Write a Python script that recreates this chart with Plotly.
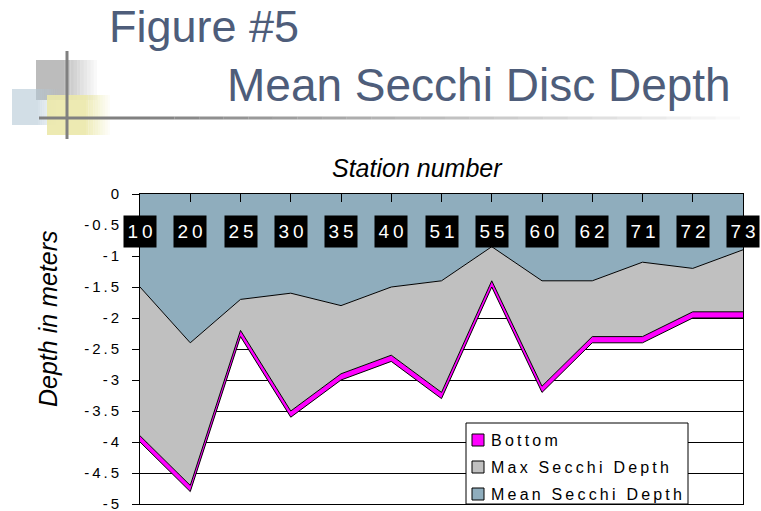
"""Figure #5 - Mean Secchi Disc Depth by station."""
import plotly.graph_objects as go

stations = ["10", "20", "25", "30", "35", "40", "51", "55", "60", "62", "71", "72", "73"]
mean_secchi = [-1.5, -2.4, -1.7, -1.6, -1.8, -1.5, -1.4, -0.85, -1.4, -1.4, -1.1, -1.2, -0.9]
max_secchi = [-3.9, -4.7, -2.2, -3.5, -2.9, -2.6, -3.2, -1.4, -3.1, -2.3, -2.3, -1.9, -1.9]
bottom = [-4.0, -4.8, -2.3, -3.6, -3.0, -2.7, -3.3, -1.5, -3.2, -2.4, -2.4, -2.0, -2.0]
surface = [0] * len(stations)

y_ticks = [0, -0.5, -1, -1.5, -2, -2.5, -3, -3.5, -4, -4.5, -5]
legend_names = ["Bottom", "Max Secchi Depth", "Mean Secchi Depth"]

MAGENTA = "#ff00ff"
GRAY = "#c0c0c0"
BLUE = "#8fadbd"
TITLE_COL = "#4e5d7a"
FONT = "Arial, Liberation Sans, sans-serif"

W, H = 761, 511
# plot area in pixels
PL, PR, PT, PB = 140, 743, 194, 504


def px(x):
    return (x - PL) / (PR - PL)


def py(y):
    return (PB - y) / (PB - PT)


def spaced(s, gap="\u2009"):
    # the original chart uses wide letter spacing
    return gap.join(s)


fig = go.Figure()
line = dict(color="black", width=1)
fig.add_trace(go.Scatter(x=stations, y=bottom, mode="lines", line=line,
                         showlegend=False, hoverinfo="skip"))
fig.add_trace(go.Scatter(x=stations, y=max_secchi, mode="lines", line=line,
                         fill="tonexty", fillcolor=MAGENTA, showlegend=False))
fig.add_trace(go.Scatter(x=stations, y=mean_secchi, mode="lines", line=line,
                         fill="tonexty", fillcolor=GRAY, showlegend=False))
fig.add_trace(go.Scatter(x=stations, y=surface, mode="lines", line=dict(width=0),
                         fill="tonexty", fillcolor=BLUE, showlegend=False,
                         hoverinfo="skip"))

# station labels: white on black boxes
for i, s in enumerate(stations):
    fig.add_annotation(x=i, y=-0.6, text=spaced(s), showarrow=False,
                       xanchor="center", yanchor="middle",
                       font=dict(family=FONT, size=19, color="white"),
                       bgcolor="black", width=32, height=31, borderpad=0)

fig.update_xaxes(type="category", side="top", range=[0, len(stations) - 1],
                 showticklabels=False, ticks="inside", ticklen=8,
                 tickcolor="black", showline=True, mirror=True,
                 linecolor="black", linewidth=1, showgrid=False,
                 automargin=False)
fig.update_yaxes(range=[-5, 0], tickvals=y_ticks,
                 ticktext=[spaced(str(v)) for v in y_ticks],
                 ticks="outside", ticklen=7, tickcolor="black",
                 ticklabelstandoff=10, ticklabeloverflow="allow",
                 tickfont=dict(family=FONT, size=15, color="black"),
                 showline=True, mirror=True, linecolor="black", linewidth=1,
                 showgrid=True, gridcolor="black", gridwidth=1, zeroline=False,
                 automargin=False)


def label(x, y, text, size, color="black", xanchor="center", angle=0):
    fig.add_annotation(xref="paper", yref="paper", x=px(x), y=py(y),
                       text=text, showarrow=False, textangle=angle,
                       xanchor=xanchor, yanchor="middle",
                       font=dict(family=FONT, size=size, color=color))


# axis titles
label(417, 168, "<i>Station number</i>", 25)
label(48, 319, "<i>Depth in meters</i>", 25, angle=-90)

# slide title
label(107, 27, "Figure #5", 45, TITLE_COL, "left")
label(225, 85, "Mean Secchi Disc Depth", 46, TITLE_COL, "left")

shapes = []


def rect(x0, y0, x1, y1, color, opacity=1.0, line_color=None):
    shapes.append(dict(type="rect", xref="paper", yref="paper",
                       x0=px(x0), x1=px(x1), y0=py(y1), y1=py(y0),
                       fillcolor=color, opacity=opacity,
                       line=dict(width=1 if line_color else 0,
                                 color=line_color or color)))


def fade_rect(x0, y0, x1, y1, x_fade, color, steps=10, opacity=1.0):
    rect(x0, y0, x_fade, y1, color, opacity)
    step = (x1 - x_fade) / steps
    for i in range(steps):
        rect(x_fade + i * step, y0, x_fade + (i + 1) * step, y1, color,
             opacity * (1 - (i + 1) / (steps + 1)))


# decoration in the slide corner
fade_rect(36, 60, 97, 100, 64, "#bcbcbc")
fade_rect(12, 89, 60, 125, 38, "#b4c8d6", opacity=0.6)
fade_rect(47, 95, 110, 135, 86, "#ebe8aa", opacity=0.9)
shapes.append(dict(type="line", xref="paper", yref="paper", x0=px(67), x1=px(67),
                   y0=py(51), y1=py(139), line=dict(color="#808080", width=3)))
# horizontal rule fading out to the right
n_seg = 24
for k in range(n_seg):
    a = 150 + k * (740 - 150) / n_seg
    b = a + (740 - 150) / n_seg
    shapes.append(dict(type="line", xref="paper", yref="paper", x0=px(a), x1=px(b),
                       y0=py(118), y1=py(118), opacity=1 - (k + 1) / (n_seg + 1),
                       line=dict(color="#808080", width=3)))
shapes.append(dict(type="line", xref="paper", yref="paper", x0=px(39), x1=px(150),
                   y0=py(118), y1=py(118), line=dict(color="#808080", width=3)))

# legend box
rect(466, 423, 688, 504, "white", line_color="black")
for name, color, yc in zip(legend_names, [MAGENTA, GRAY, BLUE], [440, 467, 494]):
    rect(472, yc - 6, 484, yc + 6, color, line_color="black")
    label(489, yc, spaced(name), 16, xanchor="left")

fig.update_layout(width=W, height=H,
                  margin=dict(l=PL, r=W - PR, t=PT, b=H - PB),
                  paper_bgcolor="white", plot_bgcolor="white",
                  shapes=shapes, showlegend=False)

# drop the browser's default 8px body margin so the figure fills the window
fig.write_html("out.html", config={"displayModeBar": False},
               post_script="document.body.style.margin = '0';")
